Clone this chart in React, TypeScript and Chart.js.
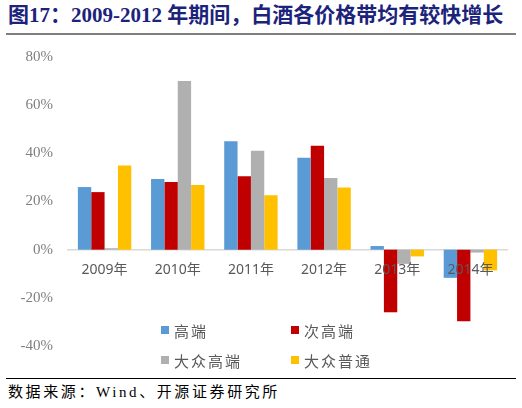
import React, { useEffect, useRef } from 'react';
import { Chart, registerables } from 'chart.js';

Chart.register(...registerables);

const categories = ['2009年', '2010年', '2011年', '2012年', '2013年', '2014年'];
const seriesNames = ['高端', '次高端', '大众高端', '大众普通'];
const seriesColors = ['#5B9BD5', '#C00000', '#B0B0B0', '#FFC000'];
const highEnd = [26, 29.3, 45, 38.2, 1.5, -11.7];
const subHighEnd = [23.9, 28.1, 30.5, 43.1, -26, -29.7];
const massHigh = [0.6, 70, 41.1, 29.8, -5.9, -1.2];
const massCommon = [35, 26.8, 22.6, 25.8, -2.8, -8.6];
const yTicks = [-40, -20, 0, 20, 40, 60, 80];

const seriesValues = [highEnd, subHighEnd, massHigh, massCommon];

const App = () => {
   const canvasRef = useRef<HTMLCanvasElement | null>(null);

   useEffect(() => {
      if (!canvasRef.current) {
         return;
      }
      const chart = new Chart(canvasRef.current, {
         type: 'bar',
         data: {
            labels: categories,
            datasets: seriesNames.map((name, i) => ({
               label: name,
               data: seriesValues[i],
               backgroundColor: seriesColors[i],
               borderWidth: 0,
               categoryPercentage: 0.73,
               barPercentage: 1,
            })),
         },
         options: {
            animation: false,
            responsive: false,
            maintainAspectRatio: false,
            layout: { padding: { left: 8, right: 15, top: 17, bottom: 14 } },
            plugins: {
               legend: { display: false },
               tooltip: { enabled: false },
            },
            scales: {
               x: {
                  position: { y: 0 } as any,
                  grid: { display: false, drawTicks: false },
                  border: { display: true, color: '#D9D9D9', width: 1.5 },
                  ticks: {
                     z: 1,
                     padding: 12,
                     color: '#595959',
                     font: { family: '"Noto Sans", "Noto Sans CJK SC", sans-serif', size: 14 },
                     maxRotation: 0,
                  },
               },
               y: {
                  min: -40,
                  max: 80,
                  afterFit: (s: any) => {
                     s.width = 60;
                  },
                  afterBuildTicks: (s: any) => {
                     s.ticks = yTicks.map((v) => ({ value: v }));
                  },
                  grid: { display: false, drawTicks: true, tickLength: 15 },
                  border: { display: false },
                  ticks: {
                     padding: 0,
                     color: '#7F7F7F',
                     font: { family: '"Liberation Serif", serif', size: 15 },
                     callback: (v: any) => v + '%',
                  },
               },
            },
         },
      });
      return () => {
         chart.destroy();
      };
   }, []);

   return (
      <div
         style={{
            position: 'absolute',
            left: 0,
            top: 0,
            width: 522,
            height: 408,
            background: '#fff',
            overflow: 'hidden',
         }}
      >
         <div
            style={{
               position: 'absolute',
               left: 8,
               top: 3,
               fontSize: 21,
               lineHeight: '24px',
               letterSpacing: 0,
               fontWeight: 'bold',
               color: '#1B237B',
               whiteSpace: 'nowrap',
               fontFamily: '"Liberation Serif", "Noto Sans CJK SC", serif',
            }}
         >
            图17：2009-2012 年期间，白酒各价格带均有较快增长
         </div>
         <div style={{ position: 'absolute', left: 6, top: 33, width: 510, height: 2, background: '#7F7F7F' }} />
         <canvas
            ref={canvasRef}
            width={522}
            height={320}
            style={{ position: 'absolute', left: 0, top: 40 }}
         />
         <div
            style={{
               position: 'absolute',
               left: 161,
               top: 315,
               display: 'grid',
               gridTemplateColumns: '130px 130px',
               gridAutoRows: '30px',
               fontSize: 15,
               letterSpacing: 2,
               color: '#595959',
               fontFamily: '"Noto Sans CJK SC", sans-serif',
            }}
         >
            {seriesNames.map((name, i) => (
               <div key={name} style={{ display: 'flex', alignItems: 'center', whiteSpace: 'nowrap' }}>
                  <span
                     style={{
                        display: 'inline-block',
                        width: 8,
                        height: 8,
                        background: seriesColors[i],
                        marginRight: 5,
                     }}
                  />
                  {name}
               </div>
            ))}
         </div>
         <div style={{ position: 'absolute', left: 6, top: 378, width: 510, height: 1, background: '#000' }} />
         <div
            style={{
               position: 'absolute',
               left: 8,
               top: 382,
               fontSize: 15,
               lineHeight: '20px',
               letterSpacing: 2.6,
               color: '#000',
               whiteSpace: 'nowrap',
               fontFamily: '"Liberation Serif", "Noto Sans CJK SC", serif',
            }}
         >
            数据来源：Wind、开源证券研究所
         </div>
      </div>
   );
};

export default App;
